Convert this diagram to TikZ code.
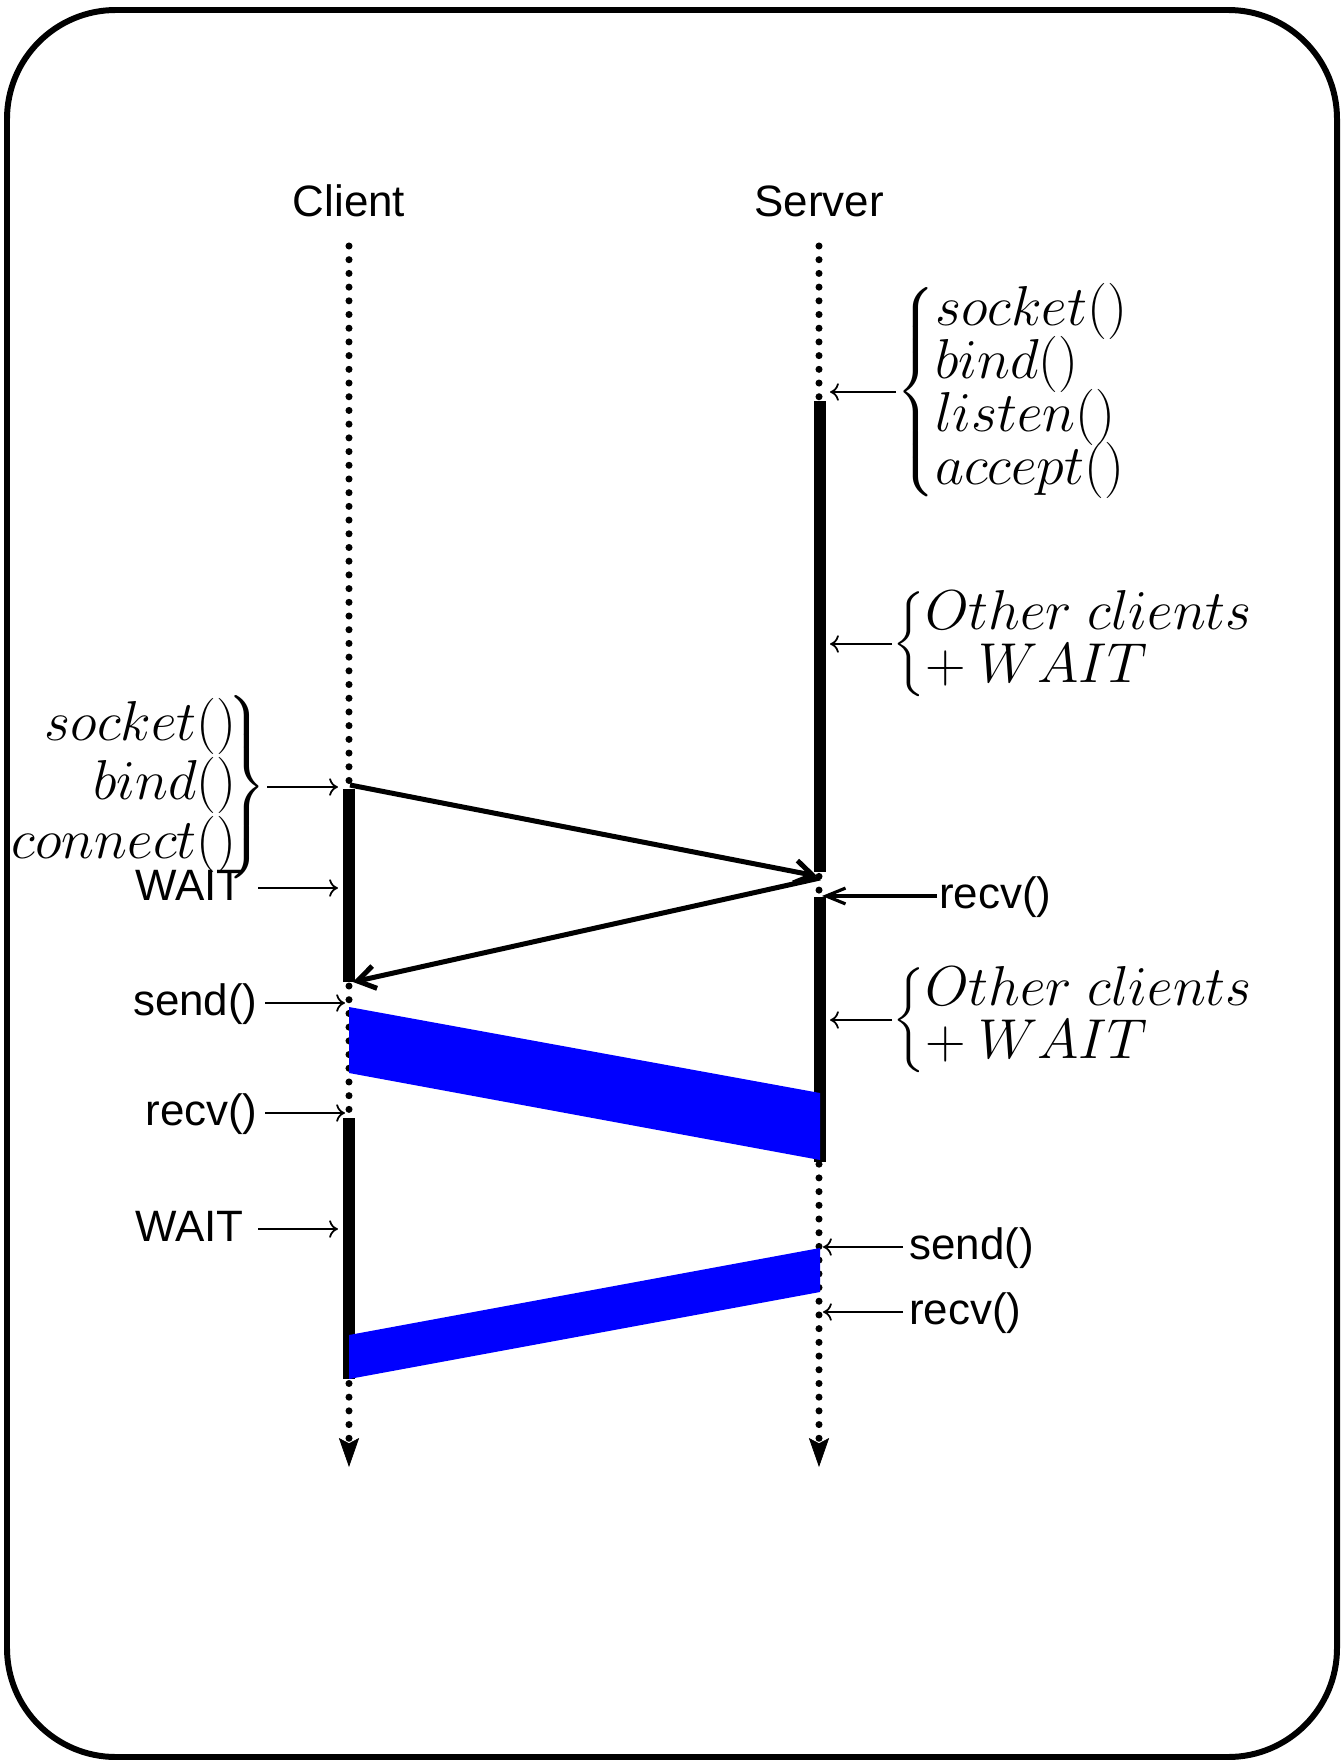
\documentclass[tikz,border=0pt]{standalone}
\usepackage{fix-cm}
\usepackage{exscale}
\usepackage[no-math]{fontspec}
\setmainfont{Liberation Sans}
\usetikzlibrary{arrows.meta}
\definecolor{msgBlue}{HTML}{0000FF}
\newcommand{\callfont}{\fontsize{25}{30}\selectfont}
\newcommand{\fnsize}[2]{\fontsize{#1}{#2}\selectfont}

\begin{document}
\begin{tikzpicture}[x=0.02cm, y=-0.02cm,
  frame/.style={line width=3.4pt, rounded corners=62pt},
  lifeline/.style={line width=4pt, line cap=round, dash pattern=on 0pt off 7.8pt,
    -{Stealth[length=16.5pt, width=11.5pt, inset=3pt, line width=0.4pt]}},
  busy/.style={line width=6.8pt},
  msg/.style={line width=2.85pt, -{Straight Barb[length=10pt, width=13pt]}},
  note/.style={line width=1pt, -{To[length=5pt, width=10pt]}},
  notethick/.style={line width=1.8pt, -{Straight Barb[length=11pt, width=9pt]}},
  call/.style={font=\callfont, inner sep=0pt, text height=19.5pt, text depth=5.5pt},
  fn/.style={inner sep=0pt}]
  \useasboundingbox (0,0) rectangle (1341,1760);
  \draw[frame] (7,10) rectangle (1337,1757);
  % lifelines
  \node[font=\callfont, anchor=base] (client) at (349,217) {Client};
  \node[font=\callfont, anchor=base] (server) at (819,217) {Server};
  \coordinate (cli top) at (349,246);
  \coordinate (cli end) at (349,1467);
  \coordinate (srv top) at (819,246);
  \coordinate (srv end) at (819,1467);
  \draw[lifeline] (cli top) -- (cli end);
  \draw[lifeline] (srv top) -- (srv end);
  % busy periods
  \draw[busy] (349,789) -- (349,982);
  \draw[busy] (349,1118) -- (349,1379);
  \draw[busy] (820,401) -- (820,872);
  \draw[busy] (820,897) -- (820,1162);
  % data transfers
  \fill[msgBlue] (349,1007) -- (820,1093) -- (820,1160) -- (349,1073) -- cycle;
  \fill[msgBlue] (820,1248) -- (820,1292) -- (349,1379) -- (349,1335) -- cycle;
  % connect / accept
  \coordinate (cli conn) at (350,785);
  \coordinate (srv acc) at (817,876);
  \coordinate (srv reply) at (820,878);
  \coordinate (cli reply) at (353,982);
  \draw[msg] (cli conn) -- (srv acc);
  \draw[msg] (srv reply) -- (cli reply);
  % server side
  \node[fn, anchor=west] (srvsetup) at (896,392)
    {\fnsize{32}{29}$\left\{\begin{array}{@{}l@{}}socket()\\[-2.5pt] bind()\\[-2.5pt] listen()\\[-2.5pt] accept()\end{array}\right.$};
  \node[fn, anchor=west] (others1) at (892,644)
    {\fnsize{32}{29}$\left\{\begin{array}{@{}l@{}}Other\ clients\\ +\:WAIT\end{array}\right.$};
  \node[fn, anchor=west] (others2) at (892,1020)
    {\fnsize{32}{29}$\left\{\begin{array}{@{}l@{}}Other\ clients\\ +\:WAIT\end{array}\right.$};
  \node[call, anchor=west, inner xsep=1pt] (srecv1) at (937,896) {recv()};
  \node[call, anchor=west, inner xsep=3.4pt] (ssend) at (903,1247) {send()};
  \node[call, anchor=west, inner xsep=3.4pt] (srecv2) at (903,1312) {recv()};
  \draw[note, shorten >=6.3pt] (srvsetup.west) -- (srvsetup.west -| srv top);
  \draw[note, shorten >=6.3pt] (others1.west) -- (others1.west -| srv top);
  \draw[note, shorten >=6.3pt] (others2.west) -- (others2.west -| srv top);
  \draw[notethick, shorten >=1.7pt] (srecv1.west) -- (srecv1.west -| srv top);
  \draw[note, shorten >=2.3pt] (ssend.west) -- (ssend.west -| srv top);
  \draw[note, shorten >=2.3pt] (srecv2.west) -- (srecv2.west -| srv top);
  % client side
  \node[fn, anchor=east] (clisetup) at (267,787)
    {\fnsize{32}{32}$\left.\begin{array}{@{}r@{}}socket()\\ bind()\\ connect()\end{array}\kern-5pt\right\}$};
  \node[call, anchor=east, inner xsep=8pt] (cwait1) at (258,888) {WAIT};
  \node[call, anchor=east, inner xsep=4pt] (csend) at (265,1003) {send()};
  \node[call, anchor=east, inner xsep=4pt] (crecv) at (265,1113) {recv()};
  \node[call, anchor=east, inner xsep=8pt] (cwait2) at (258,1229) {WAIT};
  \draw[note, shorten >=6.3pt] (clisetup.east) -- (clisetup.east -| cli top);
  \draw[note, shorten >=6.3pt] (cwait1.east) -- (cwait1.east -| cli top);
  \draw[note, shorten >=2.3pt] (csend.east) -- (csend.east -| cli top);
  \draw[note, shorten >=2.3pt] (crecv.east) -- (crecv.east -| cli top);
  \draw[note, shorten >=6.3pt] (cwait2.east) -- (cwait2.east -| cli top);
\end{tikzpicture}
\end{document}
